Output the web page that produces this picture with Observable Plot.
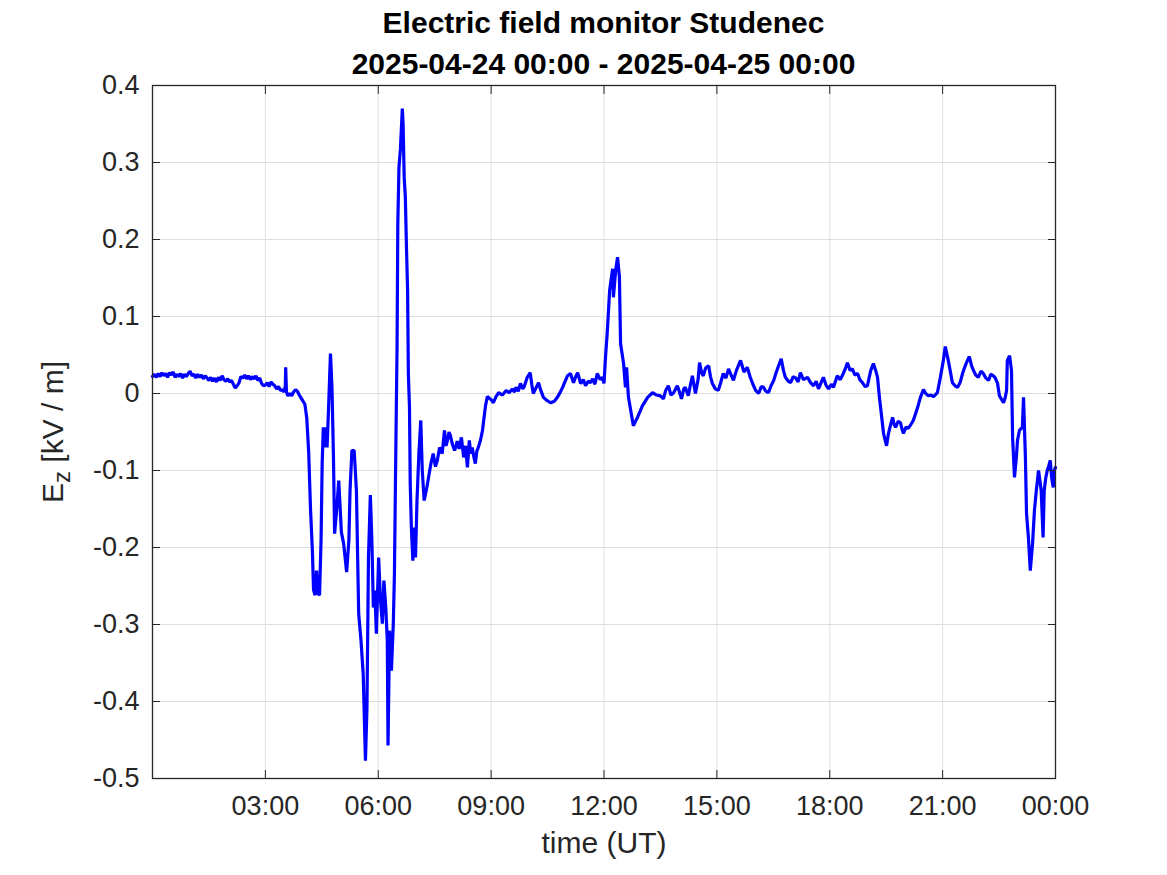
<!DOCTYPE html>
<html>
<head>
<meta charset="utf-8">
<script src="https://cdn.jsdelivr.net/npm/d3@7"></script>
<script src="https://cdn.jsdelivr.net/npm/@observablehq/plot@0.6"></script>
<style>
  html, body { margin: 0; padding: 0; background: #fff; }
  #wrap { position: relative; width: 1167px; height: 875px; font-family: "Liberation Sans", Arial, sans-serif; color: #000; }
  #title { position: absolute; left: 0; top: 2px; width: 1207px; text-align: center; font-weight: bold; font-size: 30px; line-height: 41px; z-index: 2; }
  #wrap svg { overflow: visible; }
</style>
</head>
<body>
<div id="wrap">
  <div id="title"><div id="t1"></div><div id="t2"></div></div>
</div>
<script>
const titleLines = ["Electric field monitor Studenec", "2025-04-24 00:00 - 2025-04-25 00:00"];
const xTicks = [3, 6, 9, 12, 15, 18, 21, 24];
const xTickLabels = ["03:00", "06:00", "09:00", "12:00", "15:00", "18:00", "21:00", "00:00"];
const yTicks = [-0.5, -0.4, -0.3, -0.2, -0.1, 0, 0.1, 0.2, 0.3, 0.4];
const xLabel = "time (UT)";

// time in hours since 2025-04-24 00:00 UT
const hours = [
  0.00,0.05,0.10,0.15,0.20,0.25,0.30,0.35,0.40,0.45,0.50,0.55,0.60,0.65,0.70,0.75,0.80,0.85,0.90,0.95,
  1.00,1.05,1.10,1.15,1.20,1.25,1.30,1.35,1.40,1.45,1.50,1.55,1.60,1.65,1.70,1.75,1.80,1.85,1.90,1.95,
  2.00,2.05,2.10,2.15,2.20,2.25,2.30,2.35,2.40,2.45,2.50,2.55,2.60,2.65,2.70,2.75,2.80,2.85,2.90,2.95,
  3.00,3.05,3.10,3.15,3.20,3.25,3.30,3.35,3.40,3.45,3.50,3.53,3.54,3.56,3.60,3.65,3.70,3.75,3.80,3.85,3.90,3.95,
  4.00,4.05,4.10,4.15,4.20,4.25,4.28,4.32,4.36,4.40,4.44,4.48,4.51,4.54,4.58,4.61,4.64,4.68,4.73,4.77,
  4.81,4.84,4.90,4.95,5.02,5.08,5.16,5.22,5.25,5.30,5.36,5.42,5.48,5.54,5.60,5.66,5.70,5.74,5.79,5.83,
  5.87,5.91,5.95,6.01,6.06,6.11,6.15,6.20,6.24,6.26,6.30,6.35,6.40,6.43,6.47,6.50,6.52,6.55,6.59,6.64,
  6.66,6.69,6.72,6.75,6.78,6.80,6.83,6.85,6.88,6.92,6.95,6.99,7.03,7.08,7.13,7.17,7.22,7.30,7.35,7.40,7.46,
  7.52,7.57,7.63,7.70,7.76,7.80,7.84,7.88,7.92,7.97,8.03,8.10,8.15,8.21,8.27,8.32,8.37,8.42,8.46,8.50,8.54,8.58,8.62,8.66,8.72,8.77,8.85,8.90,9.00,9.06,9.13,9.20,9.30,
  9.40,9.48,9.56,9.62,9.66,9.72,9.78,9.84,9.88,9.96,10.04,10.08,10.12,10.18,10.26,10.32,10.39,10.48,10.58,10.68,10.76,10.84,10.90,10.96,11.03,11.11,11.19,11.25,11.30,11.38,11.45,11.51,
  11.58,11.64,11.70,11.76,11.82,11.90,11.96,12.00,12.04,12.09,12.15,12.23,12.25,12.31,12.36,12.41,12.44,12.52,12.57,12.60,12.65,12.78,12.89,13.02,
  13.16,13.29,13.40,13.50,13.58,13.64,13.71,13.78,13.85,13.95,14.00,14.06,14.12,14.16,14.24,14.30,14.35,14.43,14.50,14.54,14.60,14.64,14.70,14.78,14.83,14.88,14.96,15.04,15.10,15.17,15.24,15.31,15.38,15.44,
  15.52,15.63,15.72,15.81,15.88,15.95,16.03,16.11,16.18,16.24,16.30,16.37,16.44,16.51,16.58,16.64,16.71,16.77,16.82,16.90,16.96,17.03,17.10,17.16,17.22,17.30,17.41,17.49,17.57,17.64,17.70,17.77,17.83,17.90,17.97,18.04,18.10,18.20,
  18.28,18.36,18.42,18.47,18.54,18.60,18.67,18.74,18.80,18.87,18.94,19.00,19.09,19.16,19.22,19.27,19.32,19.37,19.43,19.51,19.56,19.62,19.67,19.71,19.75,19.82,19.88,19.92,19.96,20.02,20.09,20.16,20.22,
  20.33,20.41,20.49,20.55,20.62,20.69,20.76,20.86,20.94,21.02,21.07,21.15,21.26,21.33,21.40,21.47,21.53,21.60,21.66,21.71,21.77,21.82,21.88,21.95,22.02,22.08,22.15,22.22,22.28,22.35,
  22.40,22.46,22.51,22.57,22.62,22.66,22.70,22.72,22.78,22.83,22.86,22.91,22.96,22.99,23.04,23.12,23.15,23.20,23.23,23.28,23.33,23.39,23.44,
  23.49,23.55,23.62,23.67,23.70,23.74,23.78,23.82,23.86,23.90,23.94,23.97,24.00
];
// vertical electric field Ez in kV/m
const ez = [
  0.022,0.025,0.021,0.026,0.022,0.027,0.023,0.026,0.021,0.027,0.024,0.028,0.021,0.025,0.022,0.026,0.020,0.025,0.022,0.026,
  0.029,0.023,0.025,0.020,0.025,0.021,0.024,0.019,0.023,0.020,0.017,0.021,0.016,0.020,0.015,0.021,0.017,0.023,0.018,0.016,
  0.019,0.015,0.017,0.012,0.007,0.010,0.014,0.022,0.020,0.024,0.019,0.023,0.018,0.022,0.019,0.023,0.017,0.020,0.013,0.010,
  0.011,0.014,0.009,0.015,0.012,0.010,0.006,0.009,0.004,0.005,0.002,0.010,0.034,0.002,-0.003,0.000,-0.003,0.002,0.005,0.003,-0.002,-0.006,
  -0.010,-0.014,-0.032,-0.075,-0.150,-0.205,-0.255,-0.262,-0.230,-0.260,-0.262,-0.190,-0.090,-0.044,-0.070,-0.044,-0.070,-0.018,0.052,0.008,
  -0.083,-0.182,-0.148,-0.113,-0.180,-0.195,-0.232,-0.190,-0.126,-0.074,-0.074,-0.126,-0.286,-0.320,-0.364,-0.477,-0.408,-0.213,-0.132,-0.190,
  -0.278,-0.256,-0.312,-0.213,-0.269,-0.299,-0.243,-0.278,-0.320,-0.457,-0.308,-0.360,-0.299,-0.234,-0.061,0.060,0.220,0.293,0.318,0.370,
  0.350,0.280,0.255,0.190,0.134,0.026,-0.018,-0.117,-0.174,-0.217,-0.174,-0.213,-0.139,-0.078,-0.035,-0.100,-0.139,-0.120,-0.105,-0.091,-0.078,
  -0.095,-0.087,-0.070,-0.078,-0.048,-0.068,-0.061,-0.050,-0.055,-0.066,-0.074,-0.062,-0.072,-0.057,-0.083,-0.068,-0.096,-0.061,-0.078,-0.070,-0.082,-0.091,-0.075,-0.070,-0.060,-0.048,-0.016,-0.004,-0.008,-0.012,-0.004,0.001,-0.002,
  0.004,0.001,0.006,0.002,0.008,0.003,0.013,0.006,0.009,0.021,0.027,0.012,0.000,0.006,0.014,0.004,-0.005,-0.009,-0.012,-0.010,-0.005,0.002,0.008,0.015,0.023,0.026,0.014,0.022,0.027,0.013,0.018,0.010,
  0.016,0.014,0.019,0.012,0.026,0.018,0.021,0.013,0.047,0.082,0.134,0.162,0.125,0.160,0.177,0.151,0.065,0.039,0.008,0.034,-0.005,-0.042,-0.031,-0.016,
  -0.005,0.001,-0.002,-0.003,-0.007,0.004,0.010,-0.002,0.001,0.010,0.003,-0.007,0.006,0.008,-0.003,0.012,0.023,0.000,0.018,0.040,0.026,0.023,0.033,0.036,0.022,0.013,0.006,0.004,0.014,0.026,0.020,0.032,0.024,0.017,
  0.030,0.043,0.028,0.034,0.022,0.013,0.004,0.000,0.009,0.008,0.003,0.001,0.010,0.017,0.028,0.036,0.045,0.030,0.021,0.016,0.014,0.022,0.020,0.015,0.027,0.018,0.021,0.014,0.010,0.016,0.006,0.014,0.021,0.011,0.006,0.012,0.008,0.023,
  0.018,0.026,0.033,0.040,0.030,0.032,0.024,0.026,0.018,0.014,0.009,0.010,0.030,0.039,0.030,0.021,-0.005,-0.026,-0.052,-0.068,-0.052,-0.040,-0.031,-0.040,-0.044,-0.036,-0.038,-0.046,-0.052,-0.044,-0.045,-0.040,-0.035,
  -0.019,-0.005,0.005,0.000,-0.003,-0.002,-0.004,0.001,0.021,0.043,0.061,0.043,0.014,0.010,0.008,0.015,0.026,0.036,0.043,0.048,0.036,0.030,0.024,0.021,0.029,0.026,0.020,0.017,0.025,0.023,
  0.020,0.013,-0.003,-0.008,-0.012,-0.006,0.004,0.043,0.049,0.030,-0.057,-0.109,-0.083,-0.061,-0.048,-0.044,-0.005,-0.083,-0.156,-0.187,-0.230,-0.195,-0.152,
  -0.126,-0.100,-0.126,-0.187,-0.126,-0.110,-0.100,-0.094,-0.087,-0.110,-0.122,-0.100,-0.096
];

document.getElementById("t1").textContent = titleLines[0];
document.getElementById("t2").textContent = titleLines[1];

const data = hours.map((h, i) => ({h, v: ez[i]}));
const axisColor = "#262626";

const chart = Plot.plot({
  width: 1167,
  height: 875,
  marginLeft: 152,
  marginRight: 112,
  marginTop: 85,
  marginBottom: 97,
  style: {fontFamily: "Liberation Sans, Arial, sans-serif", color: axisColor, background: "#fff", overflow: "visible"},
  x: {domain: [0, 24]},
  y: {domain: [-0.5, 0.4]},
  marks: [
    Plot.gridX(xTicks.slice(0, -1), {stroke: "#dedede", strokeOpacity: 1}),
    Plot.gridY(yTicks.slice(1, -1), {stroke: "#dedede", strokeOpacity: 1}),
    Plot.line(data, {x: "h", y: "v", stroke: "#0000ff", strokeWidth: 3.2, strokeLinejoin: "miter"}),
    // inward tick marks on all four sides
    Plot.axisX({anchor: "bottom", ticks: xTicks, tickSize: 8, dy: -8, tickFormat: () => "", label: null, stroke: axisColor}),
    Plot.axisX({anchor: "top", ticks: xTicks, tickSize: 8, dy: 8, tickFormat: () => "", label: null, stroke: axisColor}),
    Plot.axisY({anchor: "left", ticks: yTicks, tickSize: 8, dx: 8, tickFormat: () => "", label: null, stroke: axisColor}),
    Plot.axisY({anchor: "right", ticks: yTicks, tickSize: 8, dx: -8, tickFormat: () => "", label: null, stroke: axisColor}),
    // tick labels
    Plot.axisX({anchor: "bottom", ticks: xTicks, tickSize: 0, tickPadding: 17, fontSize: 27, fill: axisColor,
      tickFormat: d => xTickLabels[xTicks.indexOf(d)], label: null}),
    Plot.axisY({anchor: "left", ticks: yTicks, tickSize: 0, tickPadding: 13, fontSize: 27, fill: axisColor,
      tickFormat: d => d === 0 ? "0" : d.toFixed(1), label: null}),
    Plot.frame({stroke: axisColor, strokeWidth: 1.3}),
    Plot.text([xLabel], {frameAnchor: "bottom", dy: 74, fontSize: 30, fill: axisColor})
  ]
});

document.getElementById("wrap").appendChild(chart);

// y-axis label with subscript
const svg = d3.select(chart);
const yl = svg.append("text")
  .attr("transform", "translate(55,432) rotate(-90)")
  .attr("text-anchor", "middle")
  .attr("dominant-baseline", "middle")
  .attr("font-size", 30)
  .attr("fill", axisColor)
  .attr("font-family", "Liberation Sans, Arial, sans-serif");
yl.append("tspan").text("E");
yl.append("tspan").attr("font-size", 24).attr("dy", 9).text("z");
yl.append("tspan").attr("dy", -9).text(" [kV / m]");
</script>
</body>
</html>
